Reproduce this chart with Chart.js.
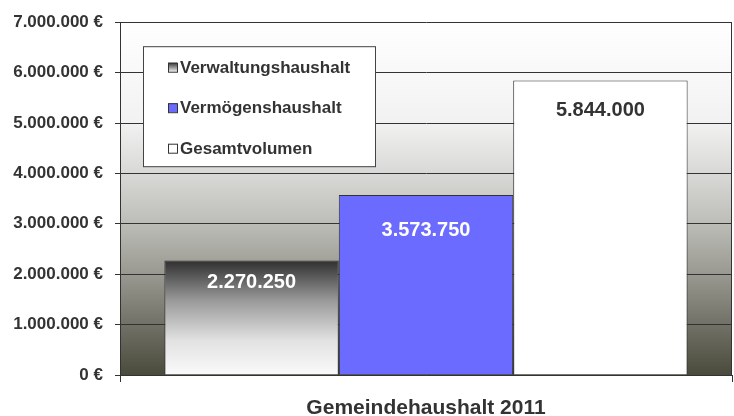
<!DOCTYPE html>
<html>
<head>
<meta charset="utf-8">
<script src="https://cdn.jsdelivr.net/npm/chart.js@4.4.0/dist/chart.umd.min.js"></script>
<style>
html, body { margin: 0; padding: 0; background: #fff; }
#wrap { width: 734px; height: 416px; }
</style>
</head>
<body>
<div id="wrap"><canvas id="chart"></canvas></div>
<script>
const categories = ['Gemeindehaushalt 2011'];
const seriesNames = ['Verwaltungshaushalt', 'Vermögenshaushalt', 'Gesamtvolumen'];
const verwaltung = [2270250];
const vermoegen = [3573750];
const gesamt = [5844000];
const yMax = 7000000;
const yStep = 1000000;

const FONT = '"Liberation Sans", Arial, sans-serif';
const TEXT = '#333333';

function fmt(v) {
    return String(Math.round(v)).replace(/\B(?=(\d{3})+(?!\d))/g, '.');
}

function verwaltungFill(ctx) {
    const chart = ctx.chart;
    const y = chart.scales.y;
    if (!chart.chartArea || !y || ctx.raw === undefined) return '#999';
    const top = y.getPixelForValue(ctx.raw);
    const bottom = y.getPixelForValue(0);
    const g = chart.ctx.createLinearGradient(0, top, 0, bottom);
    g.addColorStop(0, '#2f2f2f');
    g.addColorStop(0.35, '#9a9a9a');
    g.addColorStop(0.7, '#e2e2e2');
    g.addColorStop(1, '#fafafa');
    return g;
}

const plotBg = {
    id: 'plotBg',
    beforeDraw(chart) {
        const { ctx, chartArea: a } = chart;
        const g = ctx.createLinearGradient(0, a.top, 0, a.bottom);
        g.addColorStop(0, '#ffffff');
        g.addColorStop(0.28, '#f2f2f2');
        g.addColorStop(0.43, '#d8d8d6');
        g.addColorStop(0.57, '#bdbdb8');
        g.addColorStop(0.71, '#9a9a92');
        g.addColorStop(0.86, '#707066');
        g.addColorStop(1, '#4a4a3c');
        ctx.save();
        ctx.fillStyle = g;
        ctx.fillRect(a.left, a.top, a.right - a.left, a.bottom - a.top);
        ctx.restore();
    },
    afterDraw(chart) {
        const { ctx, chartArea: a } = chart;
        ctx.save();
        ctx.strokeStyle = '#333';
        ctx.lineWidth = 1;
        ctx.beginPath();
        ctx.moveTo(a.right - 0.5, a.top);
        ctx.lineTo(a.right - 0.5, a.bottom);
        ctx.stroke();
        ctx.restore();
    }
};

// label offset from bar top differs per series in the original
const valueLabels = {
    id: 'valueLabels',
    afterDatasetsDraw(chart) {
        const ctx = chart.ctx;
        const colors = ['#ffffff', '#ffffff', TEXT];
        const offsets = [22, 36, 30];
        ctx.save();
        ctx.font = 'bold 20px ' + FONT;
        ctx.textAlign = 'center';
        ctx.textBaseline = 'middle';
        chart.data.datasets.forEach((ds, i) => {
            chart.getDatasetMeta(i).data.forEach((bar, j) => {
                ctx.fillStyle = colors[i];
                ctx.fillText(fmt(ds.data[j]), bar.x, bar.y + offsets[i]);
            });
        });
        ctx.restore();
    }
};

const boxLegend = {
    id: 'boxLegend',
    afterDatasetsDraw(chart) {
        const { ctx, chartArea: a } = chart;
        const x = a.left + 23, y = a.top + 24, w = 232, h = 120;
        ctx.save();
        ctx.fillStyle = '#fff';
        ctx.fillRect(x, y, w, h);
        ctx.strokeStyle = '#444';
        ctx.lineWidth = 1;
        ctx.strokeRect(x + 0.5, y + 0.5, w, h);
        ctx.font = 'bold 17px ' + FONT;
        ctx.textBaseline = 'middle';
        chart.data.datasets.forEach((ds, i) => {
            const cy = y + 21 + i * 40.5;
            const mx = x + 25, ms = 9;
            let fill;
            if (i === 0) {
                fill = ctx.createLinearGradient(0, cy - ms / 2, 0, cy + ms / 2);
                fill.addColorStop(0, '#333');
                fill.addColorStop(1, '#eee');
            } else {
                fill = ds.backgroundColor;
            }
            ctx.fillStyle = fill;
            ctx.fillRect(mx, cy - ms / 2, ms, ms);
            ctx.strokeStyle = '#333';
            ctx.strokeRect(mx + 0.5, cy - ms / 2 + 0.5, ms, ms);
            ctx.fillStyle = TEXT;
            ctx.fillText(ds.label, mx + 12, cy + 1);
        });
        ctx.restore();
    }
};

new Chart(document.getElementById('chart'), {
    type: 'bar',
    data: {
        labels: categories,
        datasets: [
            { label: seriesNames[0], data: verwaltung, backgroundColor: verwaltungFill },
            { label: seriesNames[1], data: vermoegen, backgroundColor: '#6b6bff' },
            { label: seriesNames[2], data: gesamt, backgroundColor: '#ffffff' }
        ]
    },
    options: {
        responsive: true,
        maintainAspectRatio: false,
        animation: false,
        layout: { padding: { top: 20, right: 2, left: 0, bottom: 0 } },
        datasets: {
            bar: {
                borderColor: '#333',
                borderWidth: 1,
                categoryPercentage: 0.855,
                barPercentage: 1
            }
        },
        plugins: {
            legend: { display: false },
            tooltip: { enabled: false }
        },
        scales: {
            x: {
                grid: { display: true, offset: true, drawOnChartArea: false, tickLength: 7, color: '#333' },
                border: { color: '#333' },
                ticks: { color: TEXT, font: { family: FONT, size: 21, weight: 'bold' }, padding: 14 },
                afterFit(scale) { scale.height = 41; }
            },
            y: {
                min: 0,
                max: yMax,
                grid: { color: '#333', lineWidth: 1, tickLength: 5 },
                border: { color: '#333' },
                ticks: {
                    stepSize: yStep,
                    padding: 12,
                    color: TEXT,
                    font: { family: FONT, size: 17, weight: 'bold' },
                    callback: v => fmt(v) + ' €'
                },
                afterFit(scale) { scale.width = 120; }
            }
        }
    },
    plugins: [plotBg, valueLabels, boxLegend]
});
</script>
</body>
</html>
